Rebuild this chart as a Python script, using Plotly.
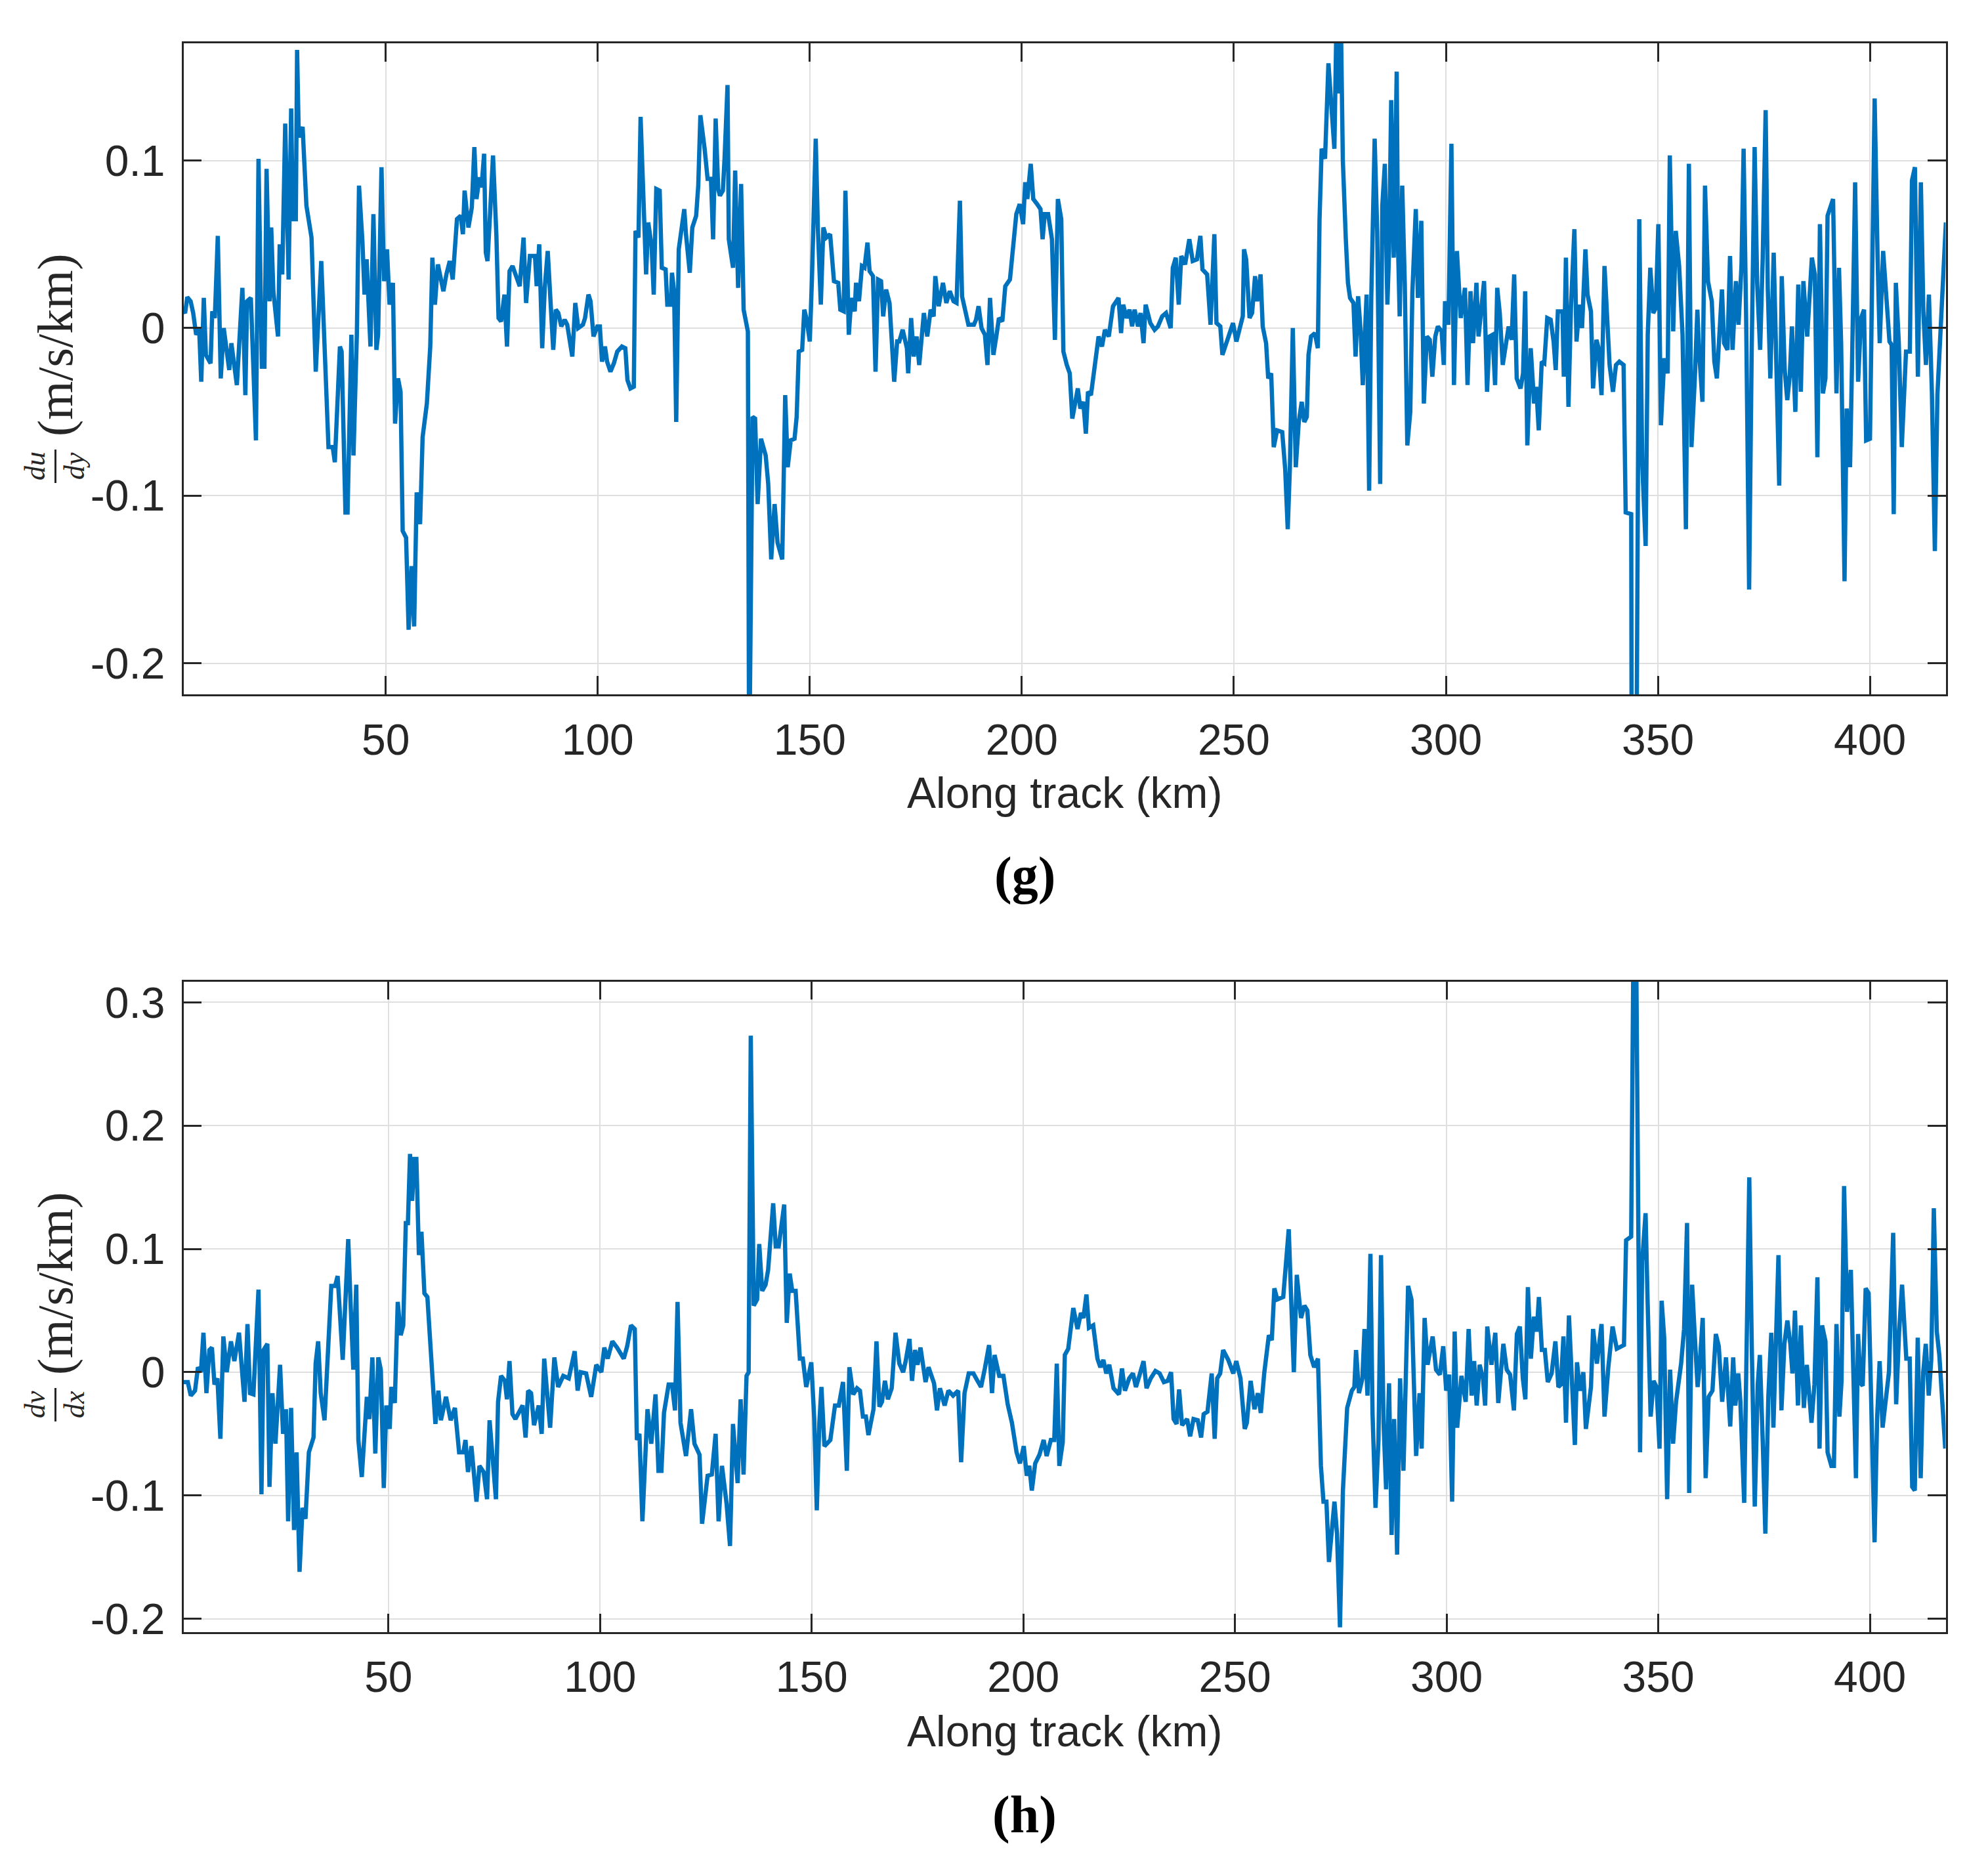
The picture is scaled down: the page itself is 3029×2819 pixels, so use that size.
import plotly.graph_objects as go

# ---------------- data: (g) du/dy ----------------
g_km = [2.1, 2.7, 3.2, 4.0, 4.6, 5.3, 6.0, 6.5, 7.1, 7.6, 8.7, 9.1, 9.7, 10.4, 11.1, 11.8, 13.1, 13.6, 14.9, 16.2,
        16.9, 17.3, 18.2, 19.4, 20.0, 20.8, 21.4, 21.9, 22.6, 23.0, 23.5, 24.6, 25.0, 25.6, 26.3, 27.1, 27.7, 28.1, 28.8, 29.1,
        29.5, 30.4, 31.3, 32.5, 33.5, 34.8, 36.5, 37.5, 38.0, 39.2, 39.6, 40.5, 41.0, 41.9, 42.4, 43.2, 43.7, 44.5, 45.0, 45.5,
        46.4, 47.1, 47.8, 48.2, 49.0, 49.6, 50.3, 50.9, 51.7, 52.2, 52.9, 53.5, 54.0, 54.8, 55.4, 56.1, 56.7, 57.3, 58.1, 58.7,
        59.7, 60.5, 61.0, 61.6, 62.3, 63.6, 64.3, 65.1, 65.8, 66.8, 67.7, 68.2, 68.6, 69.5, 70.3, 70.9, 71.4, 72.1, 72.6, 73.2,
        73.6, 74.0, 74.6, 75.3, 76.1, 76.6, 77.2, 78.0, 78.6, 79.2, 79.9, 80.7, 81.6, 82.5, 83.1, 84.0, 85.2, 85.6, 86.2, 86.9,
        87.5, 88.2, 88.7, 89.5, 90.1, 90.7, 91.4, 92.2, 92.8, 94.0, 94.7, 95.4, 96.5, 97.0, 97.8, 98.3, 99.0, 99.9, 100.5, 101.0,
        101.7, 102.2, 103.0, 103.8, 104.6, 105.7, 106.5, 107.0, 107.7, 108.5, 108.9, 109.6, 110.1, 110.7, 111.4, 111.9, 112.7, 113.2, 113.8, 114.6,
        115.1, 116.0, 116.4, 117.2, 117.5, 118.0, 118.5, 119.1, 119.9, 120.4, 120.8, 121.7, 122.3, 123.2, 123.7, 124.2, 125.2, 125.9, 126.7, 127.2,
        127.8, 128.4, 128.8, 129.5, 129.9, 130.6, 130.9, 131.9, 132.4, 133.1, 133.8, 134.4, 135.4, 135.7, 136.5, 137.1, 137.7, 138.5, 139.6, 140.2,
        140.9, 141.7, 142.4, 143.5, 144.2, 144.8, 145.5, 146.4, 146.9, 147.4, 148.2, 148.7, 149.2, 150.0, 150.5, 151.0, 151.4, 151.9, 152.6, 153.2,
        153.9, 154.8, 155.7, 156.7, 157.2, 158.0, 158.4, 159.2, 159.8, 160.6, 160.9, 161.6, 162.3, 162.9, 163.6, 164.1, 164.9, 165.5, 166.1, 166.8,
        167.3, 168.0, 168.8, 169.9, 170.6, 171.1, 171.9, 172.9, 173.2, 173.9, 174.5, 175.2, 175.8, 176.9, 177.7, 178.5, 179.2, 179.6, 180.4, 181.4,
        182.2, 183.0, 183.9, 184.6, 185.4, 185.9, 186.6, 187.4, 188.7, 189.2, 189.8, 190.5, 191.3, 191.9, 192.5, 193.3, 194.1, 194.6, 195.4, 196.1,
        197.2, 197.9, 198.7, 199.5, 200.3, 200.8, 201.3, 202.1, 202.7, 203.6, 204.4, 204.9, 205.4, 206.2, 207.1, 207.8, 208.5, 209.3, 209.8, 210.6,
        211.3, 211.9, 212.4, 213.2, 213.8, 214.5, 215.1, 215.6, 216.3, 217.0, 217.6, 218.1, 218.9, 219.6, 220.5, 221.5, 222.8, 223.4, 223.9, 224.7,
        225.4, 226.0, 226.6, 227.4, 228.0, 228.7, 229.2, 230.3, 231.3, 232.1, 233.1, 234.0, 235.1, 235.6, 236.3, 237.0, 237.6, 238.5, 239.5, 240.3,
        241.3, 242.1, 242.6, 243.7, 244.5, 245.4, 245.9, 246.8, 247.3, 248.3, 249.8, 250.6, 251.4, 252.1, 252.4, 252.9, 253.7, 254.3, 255.0, 255.5,
        256.3, 256.8, 257.6, 258.1, 258.8, 259.4, 260.2, 261.4, 262.1, 262.7, 263.2, 263.9, 264.6, 265.3, 266.0, 266.6, 267.2, 267.6, 268.2, 269.1,
        269.8, 270.2, 270.7, 271.5, 272.3, 272.9, 273.7, 274.3, 274.8, 275.2, 275.7, 276.4, 276.9, 277.4, 278.2, 278.7, 279.3, 279.9, 280.4, 281.3,
        281.9, 282.4, 282.7, 283.2, 283.8, 284.5, 285.0, 285.6, 286.2, 286.6, 287.1, 287.7, 288.4, 288.7, 289.1, 289.7, 290.3, 290.9, 291.6, 292.1,
        292.9, 293.4, 294.2, 294.8, 295.5, 296.2, 296.8, 297.5, 298.1, 299.0, 299.5, 299.8, 300.6, 301.3, 301.9, 302.6, 303.5, 304.5, 305.1, 305.8,
        306.4, 307.2, 307.7, 308.3, 309.0, 309.7, 310.3, 311.0, 311.6, 312.1, 312.7, 313.4, 314.2, 314.8, 315.5, 316.1, 316.7, 317.6, 318.2, 318.7,
        319.2, 320.0, 320.8, 321.3, 321.9, 322.6, 323.2, 323.9, 324.7, 325.4, 325.9, 326.4, 327.5, 327.8, 328.3, 328.9, 329.5, 330.3, 330.8, 331.5,
        332.1, 332.9, 333.4, 334.2, 334.7, 335.5, 336.0, 336.7, 337.4, 338.1, 338.6, 339.4, 340.1, 340.9, 341.9, 342.4, 343.7, 343.9, 344.3, 344.7,
        345.6, 346.3, 347.1, 347.6, 348.2, 348.9, 349.5, 350.1, 350.7, 351.5, 352.3, 352.8, 353.6, 354.2, 355.0, 355.8, 356.6, 357.3, 357.9, 358.7,
        359.3, 359.7, 360.5, 361.1, 361.8, 362.7, 363.3, 363.9, 365.1, 365.6, 366.4, 367.0, 367.6, 368.4, 369.0, 369.7, 370.2, 370.8, 371.5, 372.1,
        372.8, 373.4, 374.1, 374.7, 375.4, 375.9, 376.5, 377.3, 377.9, 378.6, 379.2, 379.9, 380.5, 381.1, 381.6, 382.4, 383.1, 383.7, 384.3, 385.2,
        386.3, 387.0, 387.6, 388.2, 388.9, 389.5, 390.0, 391.3, 392.1, 392.7, 393.2, 394.0, 394.5, 395.3, 395.8, 396.5, 397.2, 397.9, 398.6, 399.1,
        400.0, 400.5, 401.1, 401.8, 402.3, 403.1, 404.6, 405.1, 405.6, 406.1, 406.8, 407.5, 408.5, 409.4, 409.9, 410.6, 411.3, 412.0, 412.6, 413.2,
        413.9, 414.6, 415.3, 415.9, 416.7, 417.5, 417.9]
g_val = [0.011, 0.009, 0.0185, 0.016, 0.009, -0.004, 0.0, -0.032, 0.018, -0.016, -0.021, 0.010, 0.006, 0.055, -0.030, 0.0, -0.025, -0.009, -0.034, 0.024,
         -0.040, 0.016, 0.018, -0.067, 0.101, -0.023, -0.023, 0.095, 0.016, 0.060, 0.022, -0.005, 0.050, 0.032, 0.122, 0.029, 0.131, 0.065, 0.065, 0.166,
         0.114, 0.120, 0.073, 0.054, -0.026, 0.040, -0.071, -0.071, -0.080, -0.011, -0.014, -0.110, -0.110, -0.004, -0.076, -0.003, 0.085, 0.052, 0.020, 0.041,
         -0.011, 0.068, -0.013, -0.004, 0.096, 0.028, 0.047, 0.014, 0.027, -0.057, -0.030, -0.038, -0.121, -0.125, -0.180, -0.142, -0.178, -0.098, -0.117, -0.065,
         -0.045, -0.011, 0.042, 0.014, 0.038, 0.022, 0.032, 0.040, 0.029, 0.065, 0.067, 0.056, 0.082, 0.060, 0.072, 0.108, 0.077, 0.090, 0.084, 0.104,
         0.045, 0.040, 0.068, 0.103, 0.055, 0.006, 0.004, 0.020, -0.011, 0.034, 0.037, 0.031, 0.025, 0.054, 0.015, 0.043, 0.043, 0.025, 0.050, -0.012,
         0.024, 0.046, 0.022, -0.013, 0.011, 0.009, 0.001, 0.005, 0.002, -0.017, 0.015, 0.0, 0.002, 0.006, 0.020, 0.016, -0.005, 0.001, 0.001, -0.020,
         -0.011, -0.020, -0.026, -0.021, -0.014, -0.011, -0.012, -0.031, -0.036, -0.035, 0.058, 0.054, 0.126, 0.073, 0.032, 0.063, 0.049, 0.020, 0.083, 0.082,
         0.036, 0.035, 0.014, 0.014, 0.033, 0.022, -0.056, 0.047, 0.063, 0.071, 0.056, 0.033, 0.060, 0.067, 0.085, 0.127, 0.107, 0.089, 0.089, 0.053,
         0.125, 0.083, 0.079, 0.082, 0.101, 0.145, 0.053, 0.036, 0.094, 0.024, 0.086, 0.011, -0.002, -0.270, -0.053, -0.054, -0.105, -0.066, -0.076, -0.093,
         -0.138, -0.105, -0.128, -0.138, -0.040, -0.083, -0.067, -0.066, -0.053, -0.014, -0.013, 0.011, 0.006, -0.008, 0.029, 0.073, 0.113, 0.060, 0.014, 0.060,
         0.054, 0.056, 0.028, 0.027, 0.011, 0.010, 0.082, -0.004, 0.018, 0.010, 0.027, 0.016, 0.037, 0.036, 0.051, 0.034, 0.031, -0.026, 0.029, 0.028,
         0.007, 0.023, 0.015, -0.032, -0.008, -0.008, -0.001, -0.012, -0.027, 0.006, -0.017, -0.005, -0.022, 0.009, -0.005, 0.011, 0.007, 0.031, 0.013, 0.027,
         0.015, 0.022, 0.016, 0.015, 0.076, 0.019, 0.010, 0.002, 0.002, 0.005, 0.013, 0.0, -0.004, -0.022, 0.018, -0.016, -0.003, 0.006, 0.004, 0.025,
         0.029, 0.046, 0.068, 0.074, 0.062, 0.087, 0.077, 0.098, 0.077, 0.074, 0.071, 0.053, 0.068, 0.068, 0.053, -0.007, 0.077, 0.065, -0.014, -0.022,
         -0.027, -0.054, -0.048, -0.036, -0.048, -0.044, -0.063, -0.038, -0.040, -0.027, -0.012, -0.005, -0.011, -0.001, -0.005, 0.013, 0.018, -0.003, 0.014, 0.006,
         0.011, 0.001, 0.011, 0.001, 0.009, -0.009, 0.014, 0.003, -0.001, 0.001, 0.007, 0.009, 0.0, 0.036, 0.042, 0.014, 0.043, 0.038, 0.053, 0.040,
         0.041, 0.055, 0.035, 0.032, 0.002, 0.056, 0.003, 0.001, -0.016, -0.009, 0.003, -0.008, 0.001, 0.007, 0.047, 0.041, 0.006, 0.009, 0.031, 0.016,
         0.032, 0.001, -0.009, -0.030, -0.027, -0.071, -0.061, -0.062, -0.084, -0.120, -0.084, 0.0, -0.083, -0.056, -0.044, -0.056, -0.053, -0.016, -0.005, -0.003,
         -0.012, 0.065, 0.107, 0.101, 0.158, 0.132, 0.107, 0.200, 0.140, 0.190, 0.100, 0.053, 0.027, 0.018, 0.015, -0.017, 0.019, -0.002, -0.034, 0.020,
         -0.097, 0.018, 0.060, 0.113, 0.058, -0.093, 0.073, 0.098, 0.014, 0.046, 0.136, 0.042, 0.153, 0.050, 0.007, 0.085, 0.027, -0.070, -0.050, 0.022,
         0.071, 0.018, 0.064, -0.045, -0.005, -0.007, -0.029, -0.005, 0.001, -0.002, -0.022, 0.016, 0.002, 0.110, -0.034, 0.046, 0.006, 0.024, -0.034, 0.022,
         -0.009, 0.027, -0.005, 0.011, 0.028, -0.038, -0.005, -0.004, -0.034, 0.024, 0.009, -0.022, -0.007, 0.001, -0.007, 0.032, -0.030, -0.036, -0.027, 0.022,
         -0.070, -0.012, -0.045, -0.035, -0.061, -0.020, -0.021, 0.006, 0.005, -0.008, -0.025, 0.010, 0.010, -0.029, 0.042, -0.047, 0.013, 0.059, -0.008, 0.014,
         0.0, 0.047, 0.020, 0.010, -0.036, -0.007, -0.012, -0.040, 0.037, -0.002, -0.022, -0.038, -0.022, -0.020, -0.022, -0.110, -0.111, -0.400, -0.410, -0.380,
         0.065, -0.081, -0.130, -0.004, 0.036, 0.009, 0.012, 0.062, -0.058, -0.018, -0.027, 0.103, -0.002, 0.058, 0.037, -0.004, -0.120, 0.098, -0.071, -0.030,
         0.011, -0.014, -0.044, 0.085, 0.028, 0.016, -0.020, -0.030, 0.023, -0.009, -0.013, 0.043, -0.013, 0.028, 0.002, 0.037, 0.107, 0.006, -0.156, -0.015,
         0.108, 0.027, -0.013, 0.041, 0.130, 0.024, -0.030, 0.045, -0.022, -0.094, 0.031, -0.025, -0.043, -0.028, 0.001, -0.050, 0.026, -0.038, 0.028, -0.005,
         0.042, 0.032, -0.077, 0.062, -0.039, -0.030, 0.067, 0.077, -0.039, 0.036, -0.009, -0.151, -0.048, -0.083, -0.017, 0.087, -0.032, 0.006, 0.011, -0.067,
         -0.066, 0.040, 0.137, 0.042, -0.009, 0.046, -0.008, -0.010, -0.111, 0.027, -0.009, -0.071, -0.014, -0.014, 0.088, 0.096, -0.029, 0.087, 0.009, -0.022,
         0.020, -0.038, -0.133, -0.040, 0.001, 0.032, 0.063]

# ---------------- data: (h) dv/dx ----------------
h_km = [1.6, 2.6, 3.3, 4.3, 5.0, 5.7, 6.3, 7.0, 7.7, 8.3, 8.9, 9.6, 10.3, 11.0, 11.8, 12.8, 13.6, 14.7, 16.0, 16.7,
        17.3, 18.1, 19.3, 20.0, 20.5, 21.4, 21.9, 22.6, 23.3, 24.4, 25.1, 25.8, 26.3, 27.0, 27.7, 28.3, 29.0, 29.7, 30.4, 31.2,
        32.3, 32.8, 33.4, 34.0, 34.9, 35.7, 36.5, 37.4, 38.0, 39.2, 40.5, 41.1, 41.7, 42.4, 42.9, 43.7, 44.9, 45.5, 46.2, 46.9,
        47.6, 48.2, 48.9, 49.5, 50.3, 50.7, 51.5, 52.2, 52.9, 53.5, 54.1, 54.6, 55.1, 55.6, 56.1, 56.6, 57.2, 57.8, 58.5, 59.2,
        59.9, 60.6, 61.1, 61.8, 62.4, 63.6, 64.7, 65.7, 66.7, 67.7, 68.2, 68.8, 69.6, 70.8, 71.5, 72.5, 73.3, 73.9, 74.7, 75.4,
        75.9, 76.6, 77.5, 78.0, 78.6, 79.3, 80.0, 81.7, 82.4, 83.0, 83.7, 84.4, 85.5, 86.2, 86.8, 88.2, 89.2, 90.1, 91.3, 92.6,
        94.0, 94.7, 95.4, 96.7, 97.9, 99.1, 100.3, 101.0, 101.8, 102.9, 104.0, 105.6, 106.4, 107.3, 108.2, 108.7, 109.3, 110.0, 111.2, 112.1,
        113.1, 113.8, 114.5, 115.1, 116.2, 117.0, 117.7, 118.3, 119.0, 120.3, 121.5, 122.3, 123.5, 124.1, 125.4, 126.4, 127.3, 128.0, 128.8, 129.9,
        130.7, 131.4, 132.5, 133.2, 133.9, 134.6, 135.1, 135.6, 136.3, 137.1, 137.6, 138.3, 139.1, 139.7, 140.9, 141.5, 142.2, 143.5, 144.1, 144.8,
        145.4, 146.2, 147.2, 147.9, 148.7, 149.9, 150.6, 151.2, 151.8, 152.3, 153.0, 154.4, 155.5, 156.4, 157.4, 158.3, 158.9, 159.8, 160.7, 161.4,
        162.1, 162.8, 163.4, 164.6, 165.3, 166.0, 166.6, 167.3, 168.0, 168.9, 169.8, 170.7, 171.6, 172.2, 173.1, 173.7, 174.4, 175.0, 175.7, 176.9,
        177.6, 178.9, 179.6, 180.3, 181.4, 182.3, 183.4, 184.6, 185.3, 186.1, 187.1, 188.2, 189.0, 190.0, 190.9, 191.9, 192.6, 193.2, 194.3, 195.3,
        196.3, 197.3, 198.4, 199.2, 200.1, 200.8, 201.4, 202.0, 202.8, 203.8, 204.8, 205.5, 206.5, 207.3, 207.9, 208.5, 209.3, 209.8, 210.6, 211.4,
        211.8, 212.8, 213.6, 214.2, 214.9, 215.5, 216.5, 217.5, 218.2, 218.9, 219.6, 220.3, 221.3, 222.6, 223.3, 224.0, 225.0, 225.9, 226.6, 227.4,
        228.4, 229.1, 230.1, 231.2, 232.2, 233.2, 234.1, 234.9, 235.5, 236.2, 236.8, 237.5, 238.7, 239.4, 240.2, 241.2, 242.0, 242.6, 243.5, 244.5,
        245.2, 245.8, 246.5, 247.2, 248.4, 249.6, 250.3, 251.3, 252.3, 252.8, 253.7, 254.6, 255.4, 256.1, 256.9, 258.0, 258.7, 259.3, 260.0, 261.4,
        262.1, 262.7, 263.2, 263.9, 264.6, 265.6, 266.4, 267.1, 267.8, 268.7, 269.6, 270.3, 270.9, 271.6, 272.2, 273.5, 274.1, 274.8, 275.5, 276.5,
        277.6, 278.2, 278.6, 279.3, 280.1, 280.6, 281.3, 282.0, 282.5, 283.2, 283.9, 284.5, 285.1, 285.7, 286.4, 287.0, 287.6, 288.3, 289.0, 289.8,
        290.9, 291.7, 292.2, 292.8, 293.6, 294.1, 294.8, 295.5, 296.7, 297.5, 298.4, 299.2, 299.9, 300.6, 301.3, 301.9, 302.5, 303.5, 304.5, 305.2,
        305.9, 306.5, 307.1, 307.8, 308.6, 309.1, 309.6, 310.6, 311.5, 312.2, 313.4, 314.2, 315.0, 315.9, 316.6, 317.3, 318.0, 318.6, 319.2, 319.9,
        320.6, 321.3, 321.8, 322.5, 323.2, 323.9, 324.8, 325.7, 326.4, 327.0, 327.6, 328.2, 328.9, 329.6, 330.3, 330.8, 331.5, 332.3, 332.9, 334.1,
        334.6, 335.5, 336.6, 337.3, 338.2, 339.2, 340.2, 341.9, 342.4, 343.6, 343.9, 344.3, 344.7, 345.7, 346.2, 347.0, 347.5, 348.2, 348.9, 349.6,
        350.3, 350.8, 351.4, 352.1, 352.8, 353.5, 354.2, 355.4, 356.1, 356.8, 357.3, 358.0, 358.6, 359.3, 359.8, 360.5, 361.2, 361.9, 362.8, 363.6,
        364.3, 365.1, 366.0, 367.0, 367.7, 368.2, 368.9, 369.4, 370.3, 370.8, 371.5, 372.1, 372.8, 373.5, 374.0, 374.7, 375.3, 376.0, 376.7, 377.2,
        377.7, 378.4, 379.1, 379.8, 380.5, 381.2, 381.7, 382.3, 383.0, 383.7, 384.4, 385.1, 386.2, 386.9, 387.6, 388.1, 388.7, 389.5, 390.0, 390.9,
        391.5, 392.1, 392.8, 393.3, 393.9, 394.6, 395.5, 396.0, 396.7, 397.2, 397.8, 398.3, 399.0, 399.7, 400.4, 401.1, 401.7, 402.3, 403.0, 403.8,
        404.5, 405.5, 406.2, 406.9, 407.6, 408.6, 409.4, 410.0, 410.6, 411.3, 412.0, 412.6, 413.2, 413.9, 414.5, 415.1, 415.8, 416.4, 417.1, 417.8]
h_val = [-0.008, -0.008, -0.019, -0.015, 0.004, 0.0, 0.032, -0.017, 0.018, 0.020, -0.010, -0.005, -0.054, 0.029, 0.0, 0.025, 0.009, 0.032, -0.024, 0.039,
         -0.017, -0.018, 0.067, -0.099, 0.018, 0.023, -0.093, -0.017, -0.058, 0.006, -0.050, -0.030, -0.121, -0.029, -0.128, -0.065, -0.162, -0.110, -0.119, -0.065,
         -0.053, 0.007, 0.025, -0.017, -0.039, 0.014, 0.070, 0.070, 0.078, 0.010, 0.108, 0.052, 0.002, 0.071, -0.055, -0.085, -0.020, -0.038, 0.012, -0.066,
         0.012, 0.002, -0.094, -0.027, -0.046, -0.012, -0.025, 0.057, 0.030, 0.038, 0.121, 0.121, 0.177, 0.139, 0.173, 0.173, 0.095, 0.114, 0.064, 0.061,
         0.021, -0.012, -0.042, -0.015, -0.039, -0.020, -0.039, -0.029, -0.065, -0.065, -0.055, -0.081, -0.060, -0.105, -0.076, -0.081, -0.103, -0.039, -0.074, -0.103,
         -0.024, -0.003, -0.007, -0.022, 0.009, -0.034, -0.038, -0.027, -0.053, -0.015, -0.017, -0.043, -0.027, -0.050, 0.011, -0.045, 0.012, -0.012, -0.003, -0.005,
         0.017, -0.015, 0.0, -0.001, -0.020, 0.006, 0.0, 0.020, 0.011, 0.025, 0.020, 0.011, 0.021, 0.038, 0.035, -0.055, -0.050, -0.121, -0.030, -0.058,
         -0.018, -0.080, -0.080, -0.033, -0.010, -0.010, -0.031, 0.057, -0.041, -0.068, -0.030, -0.058, -0.067, -0.123, -0.084, -0.083, -0.050, -0.121, -0.076, -0.107,
         -0.141, -0.042, -0.090, -0.022, -0.083, -0.003, 0.0, 0.273, 0.054, 0.059, 0.104, 0.066, 0.071, 0.083, 0.137, 0.102, 0.102, 0.136, 0.040, 0.080,
         0.066, 0.066, 0.011, 0.011, -0.012, 0.008, -0.038, -0.112, -0.041, -0.012, -0.060, -0.055, -0.027, -0.027, -0.008, -0.080, 0.004, -0.018, -0.013, -0.015,
         -0.036, -0.036, -0.051, -0.030, 0.025, -0.028, -0.024, -0.007, -0.022, -0.013, 0.032, 0.007, 0.0, 0.009, 0.027, -0.007, 0.018, 0.006, 0.020, -0.008,
         0.004, -0.009, -0.031, -0.013, -0.027, -0.015, -0.019, -0.015, -0.073, -0.017, -0.001, -0.001, -0.006, -0.012, 0.003, 0.022, -0.017, 0.014, -0.003, -0.003,
         -0.026, -0.041, -0.065, -0.074, -0.060, -0.084, -0.076, -0.096, -0.074, -0.067, -0.055, -0.068, -0.055, -0.055, 0.007, -0.076, -0.057, 0.014, 0.019, 0.045,
         0.052, 0.035, 0.048, 0.044, 0.063, 0.036, 0.038, 0.011, 0.004, 0.010, -0.001, 0.006, -0.013, -0.018, 0.003, -0.015, -0.005, -0.001, -0.012, -0.003,
         0.009, -0.013, -0.005, 0.001, -0.001, -0.008, -0.007, 0.0, -0.038, -0.042, -0.014, -0.043, -0.038, -0.052, -0.038, -0.039, -0.053, -0.034, -0.032, -0.001,
         -0.054, -0.005, -0.001, 0.018, 0.010, -0.001, 0.009, -0.005, -0.046, -0.041, -0.007, -0.030, -0.017, -0.033, -0.001, 0.030, 0.026, 0.068, 0.059, 0.061,
         0.090, 0.116, 0.066, 0.0, 0.079, 0.044, 0.054, 0.050, 0.014, 0.004, 0.011, -0.076, -0.105, -0.105, -0.154, -0.105, -0.131, -0.207, -0.096, -0.029,
         -0.015, -0.012, 0.018, -0.017, -0.005, 0.035, -0.019, 0.096, -0.034, -0.110, -0.055, 0.095, -0.041, -0.095, -0.009, -0.132, -0.038, -0.148, -0.005, -0.080,
         0.070, 0.059, -0.001, -0.068, -0.017, -0.062, 0.044, 0.006, 0.029, 0.002, -0.002, 0.021, -0.015, -0.002, -0.105, 0.033, -0.045, -0.003, -0.024, 0.035,
         -0.019, 0.009, -0.027, 0.006, -0.005, -0.027, 0.037, 0.006, 0.032, -0.025, 0.023, 0.002, -0.002, -0.031, 0.031, 0.037, -0.005, -0.022, 0.069, 0.011,
         0.045, 0.033, 0.061, 0.018, 0.018, -0.008, -0.001, 0.025, -0.012, -0.010, 0.029, -0.041, 0.046, -0.013, -0.059, 0.008, -0.015, 0.0, -0.046, -0.012,
         0.035, 0.007, 0.039, -0.036, 0.004, 0.037, 0.019, 0.022, 0.107, 0.110, 0.400, 0.420, 0.380, -0.065, 0.090, 0.129, 0.055, -0.036, -0.007, -0.012,
         -0.062, 0.058, 0.028, -0.103, 0.002, -0.058, -0.024, 0.007, 0.035, 0.121, -0.098, 0.071, 0.031, -0.012, 0.007, 0.044, -0.086, -0.020, -0.015, 0.031,
         0.021, -0.024, 0.012, -0.044, 0.012, -0.027, -0.001, -0.024, -0.106, 0.031, 0.158, 0.019, -0.109, -0.010, 0.014, -0.058, -0.131, -0.020, 0.032, -0.045,
         0.024, 0.095, -0.031, 0.023, 0.042, 0.023, -0.001, 0.050, -0.027, 0.038, -0.029, 0.006, -0.041, -0.010, 0.077, -0.062, 0.038, 0.025, -0.065, -0.076,
         -0.076, 0.039, -0.036, -0.007, 0.151, 0.049, 0.083, 0.021, -0.086, 0.031, -0.009, -0.011, 0.068, 0.064, -0.034, -0.138, -0.038, 0.009, -0.045, -0.020,
         0.0, 0.113, -0.026, 0.033, 0.071, 0.011, 0.011, -0.093, -0.096, 0.028, -0.086, 0.0, 0.023, -0.019, 0.010, 0.133, 0.033, 0.014, -0.020, -0.062]

x_ticks = [50, 100, 150, 200, 250, 300, 350, 400]
x_ticktext = ["50", "100", "150", "200", "250", "300", "350", "400"]
g_yticks = [-0.2, -0.1, 0, 0.1]
g_yticktext = ["-0.2", "-0.1", "0", "0.1"]
h_yticks = [-0.2, -0.1, 0, 0.1, 0.2, 0.3]
h_yticktext = ["-0.2", "-0.1", "0", "0.1", "0.2", "0.3"]

W, H = 3029, 2819
LINE = "#0072BD"
AX = "#262626"
SANS = "Liberation Sans, Arial, Helvetica, sans-serif"
SERIF = "Liberation Serif, Times New Roman, serif"


def px(x):
    return x / W


def py(y):
    return 1 - y / H


fig = go.Figure()
fig.add_trace(go.Scatter(x=g_km, y=g_val, mode="lines", line=dict(color=LINE, width=6.5),
                         xaxis="x", yaxis="y", showlegend=False, hoverinfo="skip"))
fig.add_trace(go.Scatter(x=h_km, y=h_val, mode="lines", line=dict(color=LINE, width=6.5),
                         xaxis="x2", yaxis="y2", showlegend=False, hoverinfo="skip"))

common_axis = dict(showline=True, linecolor=AX, linewidth=2.5, mirror="ticks",
                   ticks="inside", ticklen=28, tickwidth=3, tickcolor=AX,
                   showgrid=True, gridcolor="#dfdfdf", gridwidth=1.5, zeroline=False,
                   tickfont=dict(family=SANS, size=66, color=AX), automargin=False)

xdom = [px(279.5), px(2964.5)]
fig.update_layout(
    width=W, height=H, margin=dict(l=0, r=0, t=0, b=0),
    paper_bgcolor="white", plot_bgcolor="white",
    xaxis=dict(domain=xdom, range=[2.3, 417.85], tickvals=x_ticks, ticktext=x_ticktext,
               anchor="y", ticklabelstandoff=10, **common_axis),
    yaxis=dict(domain=[py(1058), py(66)], range=[-0.2185, 0.1699], tickvals=g_yticks,
               ticktext=g_yticktext, anchor="x", ticklabelstandoff=12, **common_axis),
    xaxis2=dict(domain=xdom, range=[1.57, 417.9], tickvals=x_ticks, ticktext=x_ticktext,
                anchor="y2", ticklabelstandoff=10, **common_axis),
    yaxis2=dict(domain=[py(2486.5), py(1495.5)], range=[-0.2106, 0.317], tickvals=h_yticks,
                ticktext=h_yticktext, anchor="x2", ticklabelstandoff=12, **common_axis),
)

annotations = []
shapes = []
for dy_off, cap, num, den in [(0, "(g)", "du", "dy"), (1430, "(h)", "dv", "dx")]:
    annotations.append(dict(x=px(1622), y=py(1208 + dy_off), xref="paper", yref="paper",
                            text="Along track (km)", showarrow=False, xanchor="center", yanchor="middle",
                            font=dict(family=SANS, size=66, color=AX)))
    annotations.append(dict(x=px(1561), y=py(1335 + dy_off), xref="paper", yref="paper",
                            text="<b>" + cap + "</b>", showarrow=False, xanchor="center", yanchor="middle",
                            font=dict(family=SERIF, size=80, color="black")))
    annotations.append(dict(x=px(84), y=py(526 + dy_off), xref="paper", yref="paper",
                            text="(m/s/km)", textangle=-90, showarrow=False,
                            xanchor="center", yanchor="middle",
                            font=dict(family=SERIF, size=76, color=AX)))
    annotations.append(dict(x=px(53), y=py(710 + dy_off), xref="paper", yref="paper",
                            text="<i>" + num + "</i>", textangle=-90, showarrow=False,
                            xanchor="center", yanchor="middle",
                            font=dict(family=SERIF, size=44, color=AX)))
    annotations.append(dict(x=px(113), y=py(710 + dy_off), xref="paper", yref="paper",
                            text="<i>" + den + "</i>", textangle=-90, showarrow=False,
                            xanchor="center", yanchor="middle",
                            font=dict(family=SERIF, size=44, color=AX)))
    shapes.append(dict(type="line", xref="paper", yref="paper",
                       x0=px(84.5), x1=px(84.5), y0=py(685 + dy_off), y1=py(736 + dy_off),
                       line=dict(color=AX, width=3)))

fig.update_layout(annotations=annotations, shapes=shapes)

fig.write_html("out.html", config={"displayModeBar": False},
               post_script="document.body.style.margin='0';document.body.style.overflow='hidden';")
